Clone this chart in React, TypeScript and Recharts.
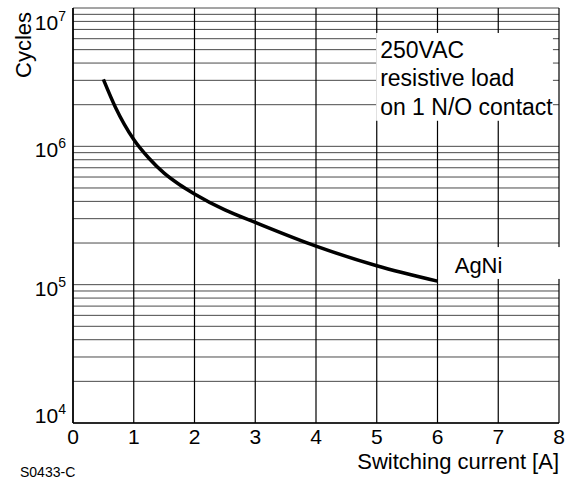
import { LineChart, Line, XAxis, YAxis, CartesianGrid, ReferenceArea } from "recharts";

// AgNi contact, 250VAC resistive load
const currentA = [0.5, 0.7, 1, 1.25, 1.5, 1.75, 2, 2.5, 3, 4, 5, 6];
const cycles = [3.05e6, 1.91e6, 1.12e6, 8.2e5, 6.4e5, 5.3e5, 4.53e5, 3.47e5, 2.82e5, 1.9e5, 1.37e5, 1.06e5];

const xTicks = [0, 1, 2, 3, 4, 5, 6, 7, 8];
const yGridTicks = [
  1e4, 2e4, 3e4, 4e4, 5e4, 6e4, 7e4, 8e4, 9e4,
  1e5, 2e5, 3e5, 4e5, 5e5, 6e5, 7e5, 8e5, 9e5,
  1e6, 2e6, 3e6, 4e6, 5e6, 6e6, 7e6, 8e6, 9e6,
  1e7,
];
const decadeLabels: Record<number, string> = { 10000: "4", 100000: "5", 1000000: "6", 10000000: "7" };
const noteLines = ["250VAC", "resistive load", "on 1 N/O contact"];

const SANS = "'Liberation Sans', Arial, sans-serif";

const data = currentA.map((c, i) => ({ current: c, cycles: cycles[i] }));

function YTick({ x, y, payload }: any) {
  const exp = decadeLabels[payload.value];
  if (!exp) return null;
  const base = Math.min(Math.max(y + 11, 30), 423);
  return (
    <text x={x + 1} y={base} textAnchor="end" fontFamily={SANS} fontSize={21} fill="#000">
      <tspan>10</tspan>
      <tspan dy={-9} fontSize={14}>{exp}</tspan>
    </text>
  );
}

function XTick({ x, y, payload }: any) {
  return (
    <text x={x} y={y + 13} textAnchor="middle" fontFamily={SANS} fontSize={21} fill="#000">
      {payload.value}
    </text>
  );
}

function NoteBox({ x, y, width, height }: any) {
  return (
    <g>
      <rect x={x} y={y} width={width} height={height} fill="#fff" />
      <text fontFamily={SANS} fontSize={23} fill="#000">
        {noteLines.map((l, i) => (
          <tspan key={l} x={x + 4} y={y + 25 + i * 28.5}>{l}</tspan>
        ))}
      </text>
    </g>
  );
}

function AgNiBox({ x, y, width, height }: any) {
  return (
    <g>
      <rect x={x} y={y} width={width} height={height} fill="#fff" />
      <text x={x + 16} y={y + 26} fontFamily={SANS} fontSize={22} fill="#000">AgNi</text>
    </g>
  );
}

export default function App() {
  return (
    <div style={{ position: "fixed", left: 0, top: 0, width: 571, height: 480, background: "#fff" }}>
      <LineChart width={571} height={480} data={data} margin={{ top: 8, right: 12, bottom: 0, left: 0 }}>
        <CartesianGrid horizontal vertical={false} stroke="#4a4a4a" strokeWidth={1} />
        <CartesianGrid horizontal={false} vertical stroke="#000" strokeWidth={1.2} />
        <XAxis
          dataKey="current"
          type="number"
          domain={[0, 8]}
          ticks={xTicks}
          interval={0}
          height={57}
          tickLine={false}
          axisLine={{ stroke: "#000", strokeWidth: 1.5 }}
          tick={<XTick />}
        />
        <YAxis
          type="number"
          scale="log"
          domain={[1e4, 1e7]}
          allowDataOverflow
          ticks={yGridTicks}
          interval={0}
          width={73}
          tickLine={false}
          axisLine={{ stroke: "#000", strokeWidth: 1.5 }}
          tick={<YTick />}
        />
        <ReferenceArea x1={4.99} x2={7.9} y1={1.53e6} y2={6.6e6} ifOverflow="visible" shape={<NoteBox />} />
        <ReferenceArea x1={6.02} x2={8.03} y1={1.1e5} y2={1.87e5} ifOverflow="visible" shape={<AgNiBox />} />
        <Line
          dataKey="cycles"
          type="monotone"
          stroke="#000"
          strokeWidth={3.5}
          dot={false}
          isAnimationActive={false}
        />
        <text x={31} y={45} transform="rotate(-90 31 45)" textAnchor="middle" fontFamily={SANS} fontSize={22} fill="#000">
          Cycles
        </text>
        <text x={559} y={469} textAnchor="end" fontFamily={SANS} fontSize={22} fill="#000">
          Switching current [A]
        </text>
        <text x={20} y={477} fontFamily={SANS} fontSize={14} fill="#000">
          S0433-C
        </text>
      </LineChart>
    </div>
  );
}
